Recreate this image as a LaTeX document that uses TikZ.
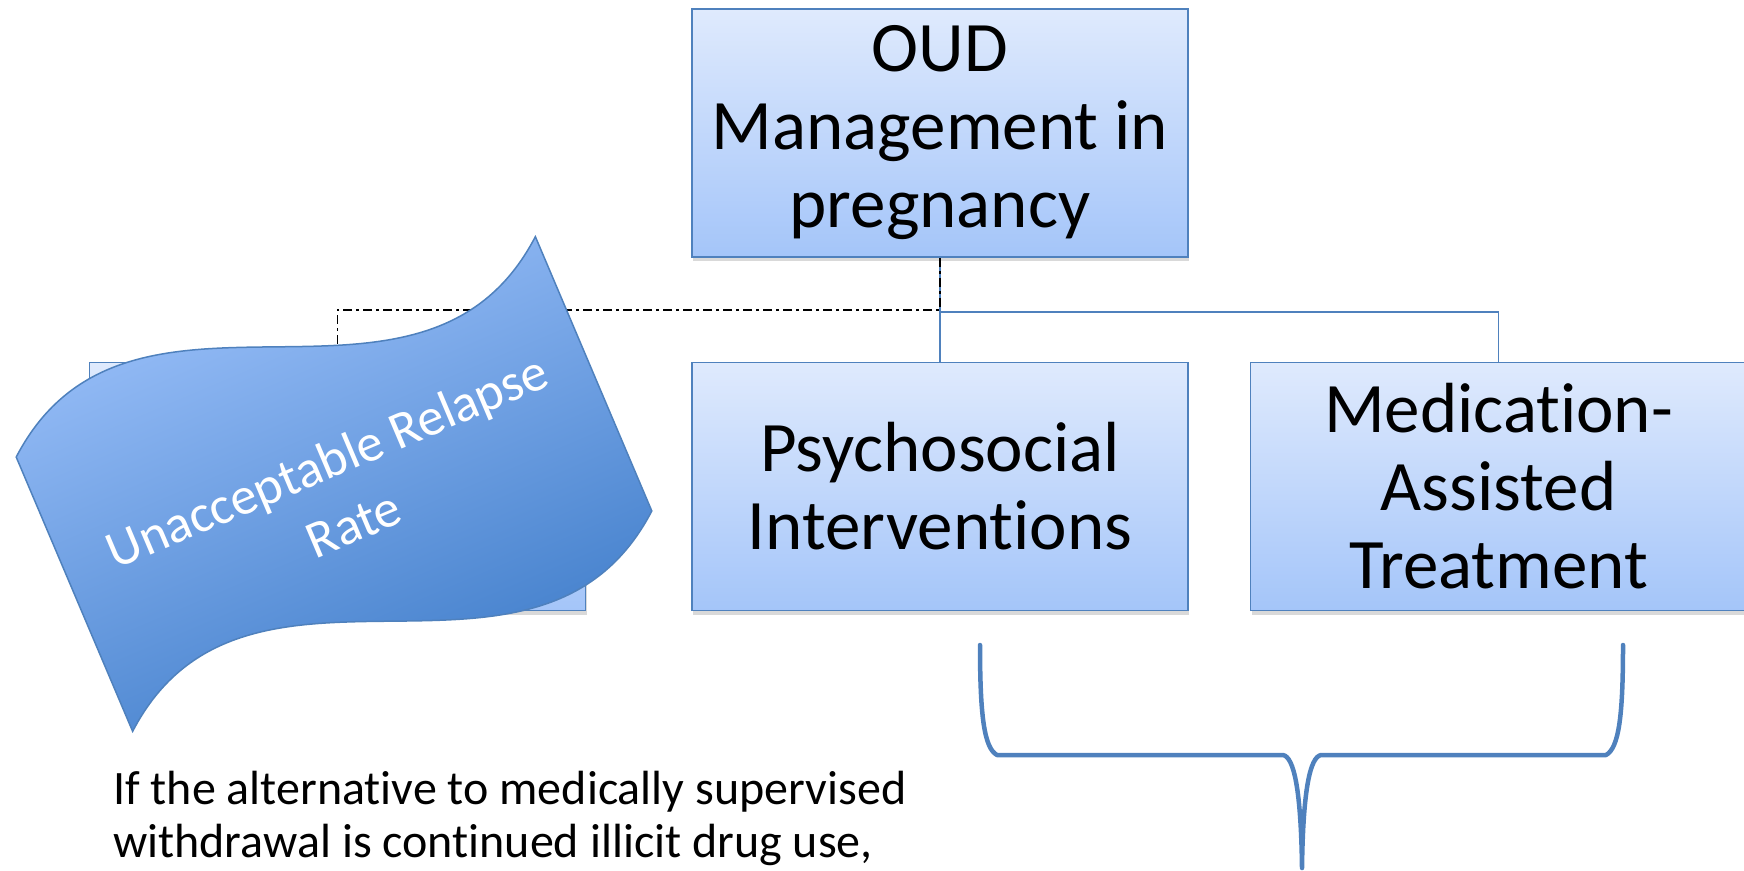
\documentclass[tikz,border=0pt]{standalone}
\usepackage{fontspec}
\setmainfont[Ligatures=NoCommon]{Carlito}
\usetikzlibrary{positioning, shadows}

\definecolor{boxtop}{RGB}{223,234,253}
\definecolor{boxbot}{RGB}{164,197,249}
\definecolor{boxline}{RGB}{79,129,189}
\definecolor{wavetop}{RGB}{156,193,250}
\definecolor{wavebot}{RGB}{62,124,201}

\begin{document}
\begin{tikzpicture}[
  x=1pt, y=-1pt,
  node distance=104pt and 61pt,
  box/.style={draw=boxline, line width=1.5pt, top color=boxtop, bottom color=boxbot,
    minimum width=496pt, minimum height=248pt, align=center,
    font=\fontsize{71}{78}\selectfont,
    drop shadow={shadow xshift=1pt, shadow yshift=-4pt, opacity=0.25, fill=black!60}},
  link/.style={draw=boxline, line width=1.5pt},
  dashlink/.style={black, line width=1.8pt, dash pattern=on 9pt off 4pt on 3pt off 4pt},
  bracepath/.style={draw=boxline, line width=4.5pt, line cap=round, line join=round},
]
\useasboundingbox (0,0) rectangle (1744,870);

% Nodes
\node[box] (oud) at (940,133) {OUD\\Management in\\pregnancy};
\node[box] (psycho) [below=of oud] {Psychosocial\\Interventions};
\node[box] (mat) [right=of psycho] {Medication-\\Assisted\\Treatment};
\node[box] (withdraw) [left=105pt of psycho] {};

% Lines
\coordinate (split) at ([yshift=-54pt]oud.south);
\draw[link] (oud) -- (psycho);
\draw[link] (split) -| (mat);
\draw[dashlink] (oud.south) -- ([yshift=-52pt]oud.south) -| (withdraw);

% Wave over the hidden box
\begin{scope}[shift={(334,484)}, rotate=23]
  \shade[draw=boxline, line width=1.5pt, top color=wavetop, bottom color=wavebot, shading angle=23]
    (-282,-149) .. controls (-94,-304) and (94,6) .. (282,-149)
    -- (282,149) .. controls (94,304) and (-94,-6) .. (-282,149) -- cycle;
\end{scope}
\node[rotate=23, text=white, align=center, font=\fontsize{53}{68}\selectfont] (relapse) at (340,492) {Unacceptable Relapse\\Rate};

% Brace
\draw[bracepath] (980,645) .. controls (980,715) and (984,748) .. (997,755) -- (1283,755)
  .. controls (1294,757) and (1301,790) .. (1302,868)
  .. controls (1303,790) and (1310,757) .. (1321,755) -- (1606,755)
  .. controls (1619,748) and (1623,715) .. (1623,645);

% Note
\node[anchor=base west, align=left, inner sep=0pt, font=\fontsize{48}{53}\selectfont] (note) at (113,857)
  {If the alternative to medically supervised\\withdrawal is continued illicit drug use,};

\end{tikzpicture}
\end{document}
